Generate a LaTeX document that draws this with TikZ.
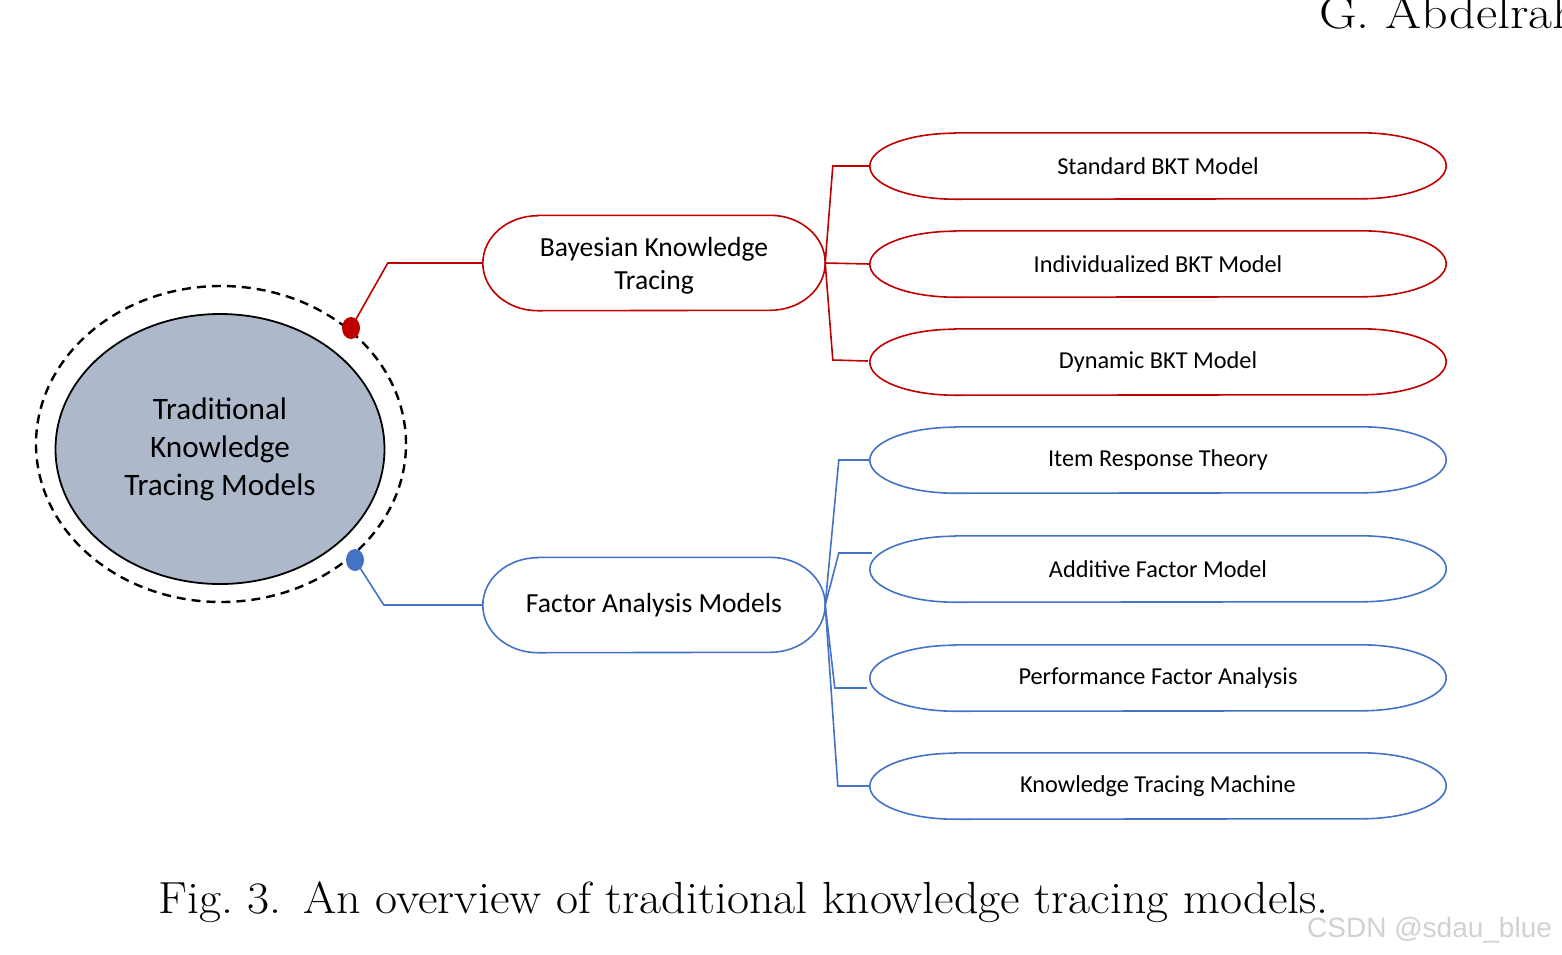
\documentclass[tikz,border=0pt]{standalone}
\usepackage{fontspec}
\setmainfont{Latin Modern Roman}
\newfontfamily\calfont{Carlito}
\newfontfamily\wmark{Liberation Sans}
\usetikzlibrary{shapes.geometric,calc}
\definecolor{kred}{HTML}{C00000}
\definecolor{kblue}{HTML}{4472C4}
\definecolor{kgray}{HTML}{ADB9CA}
\tikzset{
  leafbox/.style={minimum width=576pt,minimum height=66pt,inner sep=0pt,font=\calfont\fontsize{24.3}{28}\selectfont},
  midbox/.style={minimum width=342pt,minimum height=95pt,inner sep=0pt,align=center,font=\calfont\fontsize{27.6}{33}\selectfont},
  conn/.style={line width=1.6pt},
  dotnode/.style={ellipse,minimum width=18pt,minimum height=22pt,inner sep=0pt},
}
\newcommand{\capsule}[4]{% name, color, rx, ry
  \draw[#2,line width=1.6pt] ($(#1.north west)+(#3,0)$) -- ($(#1.north east)-(#3,0)$)
    arc[start angle=90,end angle=-90,x radius=#3,y radius=#4]
    -- ($(#1.south west)+(#3,0)$)
    arc[start angle=270,end angle=90,x radius=#3,y radius=#4] -- cycle;}
\begin{document}
\begin{tikzpicture}[x=1pt,y=1pt]
\useasboundingbox (0,0) rectangle (1562,-954);
% header and caption
\node[anchor=base west,inner sep=0pt,xscale=1.13,transform shape,font=\fontsize{46}{50}\selectfont] (hdr) at (1319,-28) {G. Abdelrahman};
\node[anchor=base west,inner sep=0pt,xscale=1.066,transform shape,font=\fontsize{45}{50}\selectfont] (cap) at (158,-913) {Fig.~3.\hspace{0.05em} An overview of traditional knowledge tracing models.};
\node[anchor=base west,inner sep=0pt,text=black!18,font=\wmark\fontsize{28}{30}\selectfont] (wm) at (1307,-937) {CSDN @sdau\_blue};
% central ellipse
\node[ellipse,draw,dashed,dash pattern=on 9pt off 6pt,line width=2.4pt,minimum width=370pt,minimum height=316pt] (outer) at (221,-444) {};
\node[ellipse,draw,line width=1.8pt,fill=kgray,minimum width=329pt,minimum height=270pt,align=center,font=\calfont\fontsize{31.2}{38}\selectfont] (core) at (220,-449) {Traditional\\Knowledge\\Tracing Models};
% mid nodes
\node[midbox] (bkt) at (654,-263) {};
\node[midbox] (bkttext) at (654,-266) {Bayesian Knowledge\\Tracing};
\node[midbox] (fam) at (654,-605) {Factor Analysis Models};
\capsule{bkt}{kred}{55}{47.5}
\capsule{fam}{kblue}{55}{47.5}
% leaves
\node[leafbox] (l1) at (1158,-166) {Standard BKT Model};
\node[leafbox] (l2) at (1158,-264) {Individualized BKT Model};
\node[leafbox] (l3) at (1158,-362) {Dynamic BKT Model};
\node[leafbox] (l4) at (1158,-460) {Item Response Theory};
\node[leafbox] (l5) at (1158,-569) {Additive Factor Model};
\node[leafbox] (l6) at (1158,-678) {Performance Factor Analysis};
\node[leafbox] (l7) at (1158,-786) {Knowledge Tracing Machine};
\foreach \n in {l1,l2,l3}{\capsule{\n}{kred}{85}{33}}
\foreach \n in {l4,l5,l6,l7}{\capsule{\n}{kblue}{85}{33}}
% dots
\node[dotnode,fill=kred] (rdot) at (351,-328) {};
\node[dotnode,fill=kblue] (bdot) at (355,-560) {};
% connectors core -> mid
\draw[conn,kred] (rdot.center) -- ([xshift=-95]bkt.west) -- (bkt.west);
\draw[conn,kblue] (bdot.center) -- ([xshift=-99]fam.west) -- (fam.west);
% red branches
\draw[conn,kred] (bkt.east) -- ([xshift=-37]l1.west) -- (l1.west);
\draw[conn,kred] (bkt.east) -- (l2.west);
\draw[conn,kred] (bkt.east) -- ([shift={(-37,2)}]l3.west) -- ([shift={(-2,1)}]l3.west);
% blue branches
\draw[conn,kblue] (fam.east) -- ([xshift=-31]l4.west) -- (l4.west);
\draw[conn,kblue] (fam.east) -- ([shift={(-31,16)}]l5.west) -- ([shift={(2,16)}]l5.west);
\draw[conn,kblue] (fam.east) -- ([shift={(-35,-10)}]l6.west) -- ([shift={(-3,-10)}]l6.west);
\draw[conn,kblue] (fam.east) -- ([xshift=-32]l7.west) -- (l7.west);
\end{tikzpicture}
\end{document}
